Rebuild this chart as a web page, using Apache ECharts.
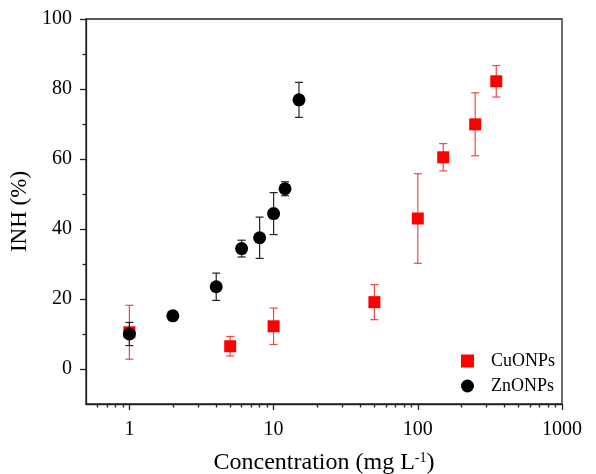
<!DOCTYPE html>
<html>
<head>
<meta charset="utf-8">
<script src="https://cdn.jsdelivr.net/npm/echarts@6/dist/echarts.min.js"></script>
<style>html,body{margin:0;padding:0;background:#fff;}#c{width:596px;height:474px;}</style>
</head>
<body>
<div id="c"></div>
<script>
// ---- data ----
const cuConc = [1, 5, 10, 50, 100, 150, 250, 350];
const cuInh  = [10.5, 6.5, 12.2, 19.1, 43.0, 60.5, 69.9, 82.2];
const cuErr  = [7.7, 2.8, 5.2, 5.0, 12.8, 3.9, 9.0, 4.5];
const znConc = [1, 2, 4, 6, 8, 10, 12, 15];
const znInh  = [10.0, 15.2, 23.5, 34.4, 37.5, 44.4, 51.5, 76.9];
const znErr  = [3.3, 0, 3.9, 2.4, 5.9, 6.0, 2.0, 5.0];
const xMajorTicks = [1, 10, 100, 1000];
const xMinorTicks = [0.6,0.7,0.8,0.9, 2,3,4,5,6,7,8,9, 20,30,40,50,60,70,80,90, 200,300,400,500,600,700,800,900];
const yMajorTicks = [0, 20, 40, 60, 80, 100];
const yMinorTicks = [10, 30, 50, 70, 90];
const xMin = 0.5, xMax = 1000, yMin = -10, yMax = 100;

const L = Math.log10;
const FONT = '"Liberation Serif", "Times New Roman", serif';
const AX = '#222';

function pts(xs, ys) { return xs.map((x, i) => [L(x), ys[i]]); }
function errs(xs, ys, es) { return xs.map((x, i) => [L(x), ys[i] - es[i], ys[i] + es[i]]).filter((d, i) => es[i] > 0); }

function errRender(color) {
  return function (params, api) {
    const x = api.value(0), lo = api.value(1), hi = api.value(2);
    const pLo = api.coord([x, lo]), pHi = api.coord([x, hi]);
    const w = 4;
    const style = { stroke: color, lineWidth: 1.2 };
    return {
      type: 'group',
      children: [
        { type: 'line', shape: { x1: pLo[0], y1: pLo[1], x2: pHi[0], y2: pHi[1] }, style },
        { type: 'line', shape: { x1: pLo[0] - w, y1: pLo[1], x2: pLo[0] + w, y2: pLo[1] }, style },
        { type: 'line', shape: { x1: pHi[0] - w, y1: pHi[1], x2: pHi[0] + w, y2: pHi[1] }, style }
      ]
    };
  };
}

const chart = echarts.init(document.getElementById('c'), null, { renderer: 'canvas' });
chart.setOption({
  animation: false,
  backgroundColor: '#fff',
  textStyle: { fontFamily: FONT, color: '#000' },
  grid: { left: 86, right: 34, top: 19, bottom: 70, containLabel: false, outerBoundsMode: 'none', show: true, borderColor: AX, borderWidth: 1.3, backgroundColor: 'transparent' },
  legend: {
    orient: 'vertical', left: 456, top: 347, itemGap: 7, itemWidth: 13, itemHeight: 13,
    textStyle: { fontFamily: FONT, fontSize: 18, color: '#000', padding: [0, 0, 0, 12] },
    data: [{ name: 'CuONPs', icon: 'rect' }, { name: 'ZnONPs', icon: 'circle' }]
  },
  xAxis: [{
    type: 'value', min: L(xMin), max: L(xMax), position: 'bottom',
    name: 'Concentration (mg L{sup|-1})', nameLocation: 'middle', nameGap: 47,
    nameTextStyle: { fontFamily: FONT, fontSize: 24, color: '#000', rich: { sup: { fontFamily: FONT, fontSize: 14, color: '#000', verticalAlign: 'top', padding: [0, 0, 10, 0] } } },
    axisLine: { show: true, onZero: false, lineStyle: { color: AX, width: 1.3 } },
    axisTick: { show: true, inside: false, length: 6, lineStyle: { color: AX, width: 1.3 }, customValues: xMajorTicks.map(L) },
    axisLabel: { show: true, margin: 16, fontFamily: FONT, fontSize: 20, color: '#000', customValues: xMajorTicks.map(L), formatter: v => String(Math.round(Math.pow(10, v))) },
    splitLine: { show: false }
  }, {
    type: 'value', min: L(xMin), max: L(xMax), position: 'bottom', gridIndex: 0,
    axisLine: { show: false, onZero: false },
    axisTick: { show: true, inside: false, length: 3.5, lineStyle: { color: AX, width: 1.3 }, customValues: xMinorTicks.map(L) },
    axisLabel: { show: false }, splitLine: { show: false }
  }],
  yAxis: [{
    type: 'value', min: yMin, max: yMax, position: 'left',
    name: 'INH (%)', nameLocation: 'middle', nameGap: 50,
    nameTextStyle: { fontFamily: FONT, fontSize: 23, color: '#000' },
    axisLine: { show: true, onZero: false, lineStyle: { color: AX, width: 1.3 } },
    axisTick: { show: true, inside: false, length: 6, lineStyle: { color: AX, width: 1.3 }, customValues: yMajorTicks },
    axisLabel: { show: true, margin: 14, fontFamily: FONT, fontSize: 20, color: '#000', customValues: yMajorTicks },
    splitLine: { show: false }
  }, {
    type: 'value', min: yMin, max: yMax, position: 'left', offset: 0,
    axisLine: { show: false, onZero: false },
    axisTick: { show: true, inside: false, length: 3.5, lineStyle: { color: AX, width: 1.3 }, customValues: yMinorTicks },
    axisLabel: { show: false }, splitLine: { show: false }
  }],
  series: [
    { name: 'CuErr', type: 'custom', xAxisIndex: 0, yAxisIndex: 0, renderItem: errRender('rgba(240,40,40,0.85)'), encode: { x: 0, y: [1, 2] }, data: errs(cuConc, cuInh, cuErr), z: 2 },
    { name: 'CuONPs', type: 'scatter', xAxisIndex: 0, yAxisIndex: 0, symbol: 'rect', symbolSize: 12, itemStyle: { color: '#ff0000', opacity: 1 }, data: pts(cuConc, cuInh), z: 3 },
    { name: 'ZnErr', type: 'custom', xAxisIndex: 0, yAxisIndex: 0, renderItem: errRender('#222'), encode: { x: 0, y: [1, 2] }, data: errs(znConc, znInh, znErr), z: 4 },
    { name: 'ZnONPs', type: 'scatter', xAxisIndex: 0, yAxisIndex: 0, symbol: 'circle', symbolSize: 13, itemStyle: { color: '#000', opacity: 1 }, data: pts(znConc, znInh), z: 5 }
  ]
});
</script>
</body>
</html>
